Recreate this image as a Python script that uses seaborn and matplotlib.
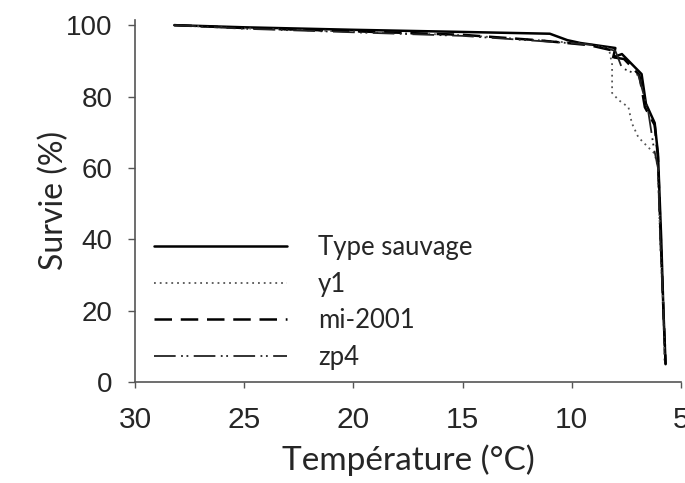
import matplotlib
matplotlib.use("Agg")
import matplotlib.pyplot as plt
import seaborn as sns
import pandas as pd

# Data
wt_temp = [28.2, 25.0, 20.0, 15.0, 11.0, 10.2, 9.6, 8.0, 8.1, 7.7, 6.8, 6.6, 6.2, 6.05, 6.0, 5.9, 5.8, 5.7]
wt_surv = [100, 99.4, 98.7, 98.1, 97.6, 95.8, 95.0, 93.6, 91.0, 91.9, 86.3, 78.0, 72.6, 64.0, 56.0, 40.0, 20.0, 5.0]

y1_temp = [28.2, 25.0, 20.0, 15.0, 11.5, 9.5, 8.3, 8.15, 8.15, 7.85, 7.4, 7.25, 6.95, 6.5, 6.2, 6.05, 5.95, 5.8, 5.75]
y1_surv = [100, 99.1, 98.2, 97.2, 95.8, 94.8, 93.5, 89.0, 81.0, 79.0, 77.0, 72.6, 68.6, 65.8, 64.0, 60.0, 40.0, 20.0, 6.0]

mi_temp = [28.2, 25.0, 20.0, 15.0, 11.6, 9.2, 8.2, 8.1, 7.6, 6.9, 6.65, 6.2, 6.05, 5.95, 5.8, 5.7]
mi_surv = [100, 99.2, 98.3, 97.3, 95.8, 94.4, 93.0, 91.0, 90.5, 86.0, 77.0, 72.0, 63.0, 45.0, 20.0, 5.0]

zp_temp = [28.2, 25.0, 20.0, 15.0, 11.6, 9.0, 8.0, 7.7, 6.95, 6.5, 6.25, 6.05, 5.95, 5.8, 5.75]
zp_surv = [100, 99.0, 98.0, 97.0, 95.6, 94.5, 92.8, 88.0, 86.0, 76.0, 66.0, 60.0, 40.0, 20.0, 8.0]

labels = ["Type sauvage", "y1", "mi-2001", "zp4"]
x_ticks = [30, 25, 20, 15, 10, 5]
y_ticks = [0, 20, 40, 60, 80, 100]

sns.set_style("white")
plt.rcParams["font.family"] = ["Liberation Sans", "DejaVu Sans"]

fig = plt.figure(figsize=(6.85, 4.83), dpi=100)
ax = fig.add_axes([0.197, 0.209, 0.797, 0.75])

series = [
    (wt_temp, wt_surv, dict(color="black", lw=1.8, linestyle="-")),
    (y1_temp, y1_surv, dict(color="#555555", lw=1.3, linestyle=(0, (1, 2.2)))),
    (mi_temp, mi_surv, dict(color="black", lw=1.8, linestyle=(0, (7, 3.5)))),
    (zp_temp, zp_surv, dict(color="#222222", lw=1.3, linestyle=(0, (12, 3, 1, 2, 1, 3)))),
]
for (t, s, st), lab in zip(series, labels):
    df = pd.DataFrame({"T": t, "S": s})
    sns.lineplot(data=df, x="T", y="S", sort=False, estimator=None, ax=ax,
                 label=lab, **st)

ax.set_xlim(30, 5)
ax.set_ylim(0, 101.5)
ax.set_xticks(x_ticks)
ax.set_yticks(y_ticks)
ax.tick_params(axis="x", labelsize=21.5, length=4, width=1, color="#555555", direction="out", pad=13, bottom=True)
ax.tick_params(axis="y", labelsize=20, length=5, width=1, color="#555555", direction="out", pad=11, left=True)
for sp in ["top", "right"]:
    ax.spines[sp].set_visible(False)
for sp in ["left", "bottom"]:
    ax.spines[sp].set_color("#555555")
    ax.spines[sp].set_linewidth(1.2)

ax.set_xlabel("Température (°C)", fontsize=24, family=["Lato", "DejaVu Sans"], labelpad=8)
ax.set_ylabel("Survie (%)", fontsize=23, family=["Lato", "DejaVu Sans"])
ax.yaxis.set_label_coords(-0.12, 0.5)

leg = ax.legend(loc="lower left", bbox_to_anchor=(-0.008, -0.03), frameon=False,
                handlelength=5.2, handletextpad=1.2, labelspacing=0.45,
                prop={"family": ["Lato", "DejaVu Sans"], "size": 18.5})

fig.savefig("out.png", dpi=100)
